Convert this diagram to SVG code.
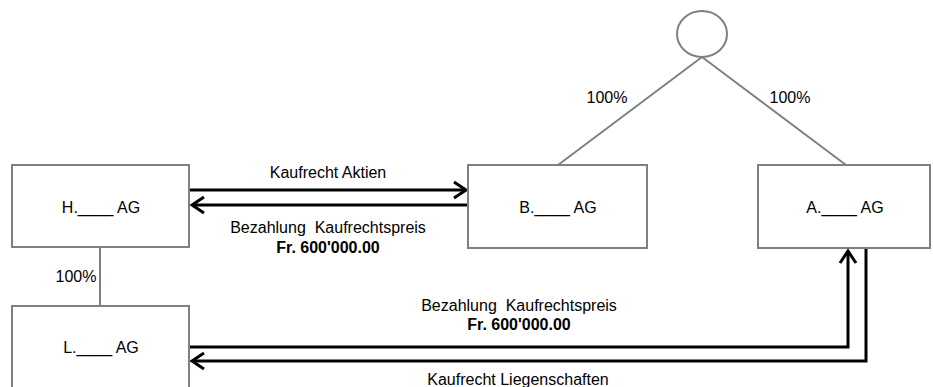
<svg xmlns="http://www.w3.org/2000/svg" width="933" height="387" viewBox="0 0 933 387">
<defs>
<marker id="arr" markerUnits="userSpaceOnUse" markerWidth="20" markerHeight="20" viewBox="-16 -10 20 20" refX="0" refY="0" orient="auto" overflow="visible">
<path d="M-12,-8 L0,0 L-12,8" fill="none" stroke="#000" stroke-width="3" stroke-linejoin="miter"/>
</marker>
<style>
.box{fill:#fff;stroke:#808080;stroke-width:2}
.ln{fill:none;stroke:#808080;stroke-width:2}
.ar{fill:none;stroke:#000;stroke-width:3;marker-end:url(#arr)}
text{font-family:"Liberation Sans",Arial,sans-serif;font-size:16px;fill:#000;text-anchor:middle}
.b{font-weight:bold}
</style>
</defs>
<rect width="933" height="387" fill="#fff"/>
<g id="connectors">
<line class="ln" x1="702" y1="57" x2="558" y2="165"/>
<line class="ln" x1="702" y1="57" x2="846" y2="165"/>
<line class="ln" x1="100" y1="247" x2="100" y2="306"/>
<path class="ar" d="M190,190 H466"/>
<path class="ar" d="M468,205 H192"/>
<path class="ar" d="M190,347 H848 V251"/>
<path class="ar" d="M866,248 V361 H192"/>
<text x="607" y="103">100%</text>
<text x="790" y="103">100%</text>
<text x="76" y="282">100%</text>
<text x="328" y="178">Kaufrecht Aktien</text>
<text x="328" y="233" xml:space="preserve">Bezahlung  Kaufrechtspreis</text>
<text x="328" y="253" class="b">Fr. 600'000.00</text>
<text x="519" y="311" xml:space="preserve">Bezahlung  Kaufrechtspreis</text>
<text x="519" y="330" class="b">Fr. 600'000.00</text>
<text x="518" y="385">Kaufrecht Liegenschaften</text>
</g>
<g id="owner">
<ellipse class="box" cx="702" cy="34" rx="25" ry="23"/>
</g>
<g id="H">
<rect class="box" x="12" y="165" width="177" height="82"/>
<text x="101" y="213">H.____ AG</text>
</g>
<g id="L">
<rect class="box" x="12" y="306" width="177" height="90"/>
<text x="101" y="353">L.____ AG</text>
</g>
<g id="B">
<rect class="box" x="468" y="165" width="179" height="83"/>
<text x="558" y="213">B.____ AG</text>
</g>
<g id="A">
<rect class="box" x="758" y="165" width="172" height="83"/>
<text x="845" y="213">A.____ AG</text>
</g>
</svg>
